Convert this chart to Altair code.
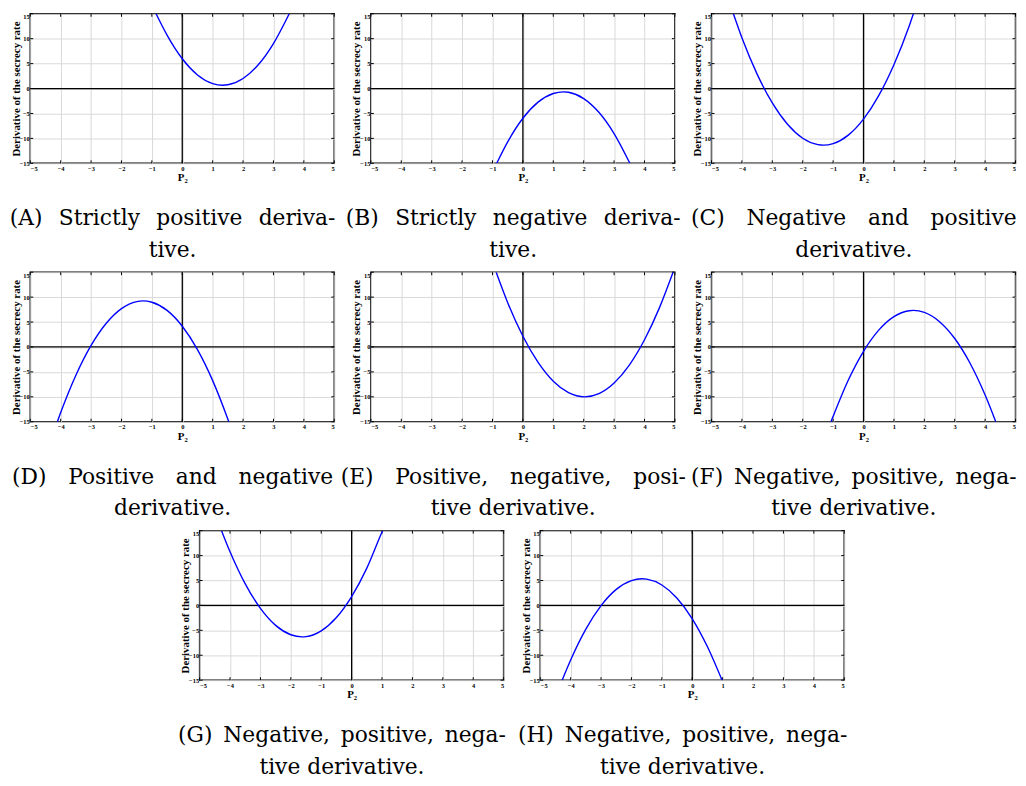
import altair as alt
import pandas as pd

# ---- data (P2 vs derivative of the secrecy rate) ----
A_x = [-0.86, -0.5, 0.0, 0.5, 1.0, 1.33, 1.5, 2.0, 2.5, 3.0, 3.52]
A_y = [15.0, 10.71, 5.97, 2.73, 0.99, 0.66, 0.75, 2.01, 4.77, 9.03, 15.0]

B_x = [-0.86, -0.5, 0.0, 0.5, 1.0, 1.33, 1.5, 2.0, 2.5, 3.0, 3.52]
B_y = [-15.0, -10.71, -5.97, -2.73, -0.99, -0.66, -0.75, -2.01, -4.77, -9.03, -15.0]

C_x = [-4.28, -4.0, -3.5, -3.0, -2.5, -2.0, -1.5, -1.32, -1.0, -0.5, 0.0, 0.5, 1.0, 1.5, 1.64]
C_y = [15.0, 10.19, 2.90, -2.89, -7.18, -9.97, -11.26, -11.36, -11.05, -9.34, -6.13, -1.42, 4.79, 12.50, 15.0]

D_x = [-4.11, -4.0, -3.5, -3.0, -2.5, -2.0, -1.5, -1.29, -1.0, -0.5, 0.0, 0.5, 1.0, 1.5, 1.53]
D_y = [-15.0, -13.16, -5.66, 0.32, 4.77, 7.70, 9.11, 9.24, 8.98, 7.34, 4.16, -0.53, -6.75, -14.50, -15.0]

E_x = [-0.88, -0.5, 0.0, 0.5, 1.0, 1.5, 2.03, 2.5, 3.0, 3.5, 4.0, 4.5, 4.94]
E_y = [15.0, 8.88, 2.16, -3.09, -6.87, -9.17, -10.0, -9.35, -7.22, -3.63, 1.45, 8.00, 15.0]

F_x = [-1.07, -1.0, -0.5, 0.0, 0.5, 1.0, 1.5, 1.64, 2.0, 2.5, 3.0, 3.5, 4.0, 4.35]
F_y = [-15.0, -13.92, -6.63, -0.86, 3.38, 6.09, 7.28, 7.34, 6.94, 5.08, 1.70, -3.21, -9.65, -15.0]

G_x = [-4.28, -4.0, -3.5, -3.0, -2.5, -2.0, -1.63, -1.5, -1.0, -0.5, 0.0, 0.5, 1.0, 1.02]
G_y = [15.0, 10.77, 4.33, -0.59, -4.00, -5.88, -6.30, -6.25, -5.09, -2.42, 1.78, 7.49, 14.73, 15.0]

H_x = [-4.28, -4.0, -3.5, -3.0, -2.5, -2.0, -1.65, -1.5, -1.0, -0.5, 0.0, 0.5, 0.98]
H_y = [-15.0, -10.94, -4.75, -0.03, 3.22, 4.99, 5.35, 5.28, 4.10, 1.45, -2.68, -8.29, -15.0]

# caption lines (wide unicode spaces mimic the justified LaTeX lines)
EM = "\u2003"          # wide gap
MID = "\u2002\u2005"   # medium gap
EN = "\u2002"          # small gap
captions = {
    "A": [f"(A){MID}Strictly{MID}positive{MID}deriva-", "tive."],
    "B": [f"(B){MID}Strictly{MID}negative{MID}deriva-", "tive."],
    "C": [f"(C){EM}Negative{EM}and{EM}positive", "derivative."],
    "D": [f"(D){EM}Positive{EM}and{EM}negative", "derivative."],
    "E": [f"(E){EM}Positive,{EM}negative,{EM}posi-", "tive derivative."],
    "F": [f"(F){EN}Negative,{EN}positive,{EN}nega-", "tive derivative."],
    "G": [f"(G){EN}Negative,{EN}positive,{EN}nega-", "tive derivative."],
    "H": [f"(H){EN}Negative,{EN}positive,{EN}nega-", "tive derivative."],
}

x_ticks = [-5, -4, -3, -2, -1, 0, 1, 2, 3, 4, 5]
y_ticks = [-15, -10, -5, 0, 5, 10, 15]

x_title = "P₂"
y_title = "Derivative of the secrecy rate"

W, H = 307, 151
AXFONT = "Liberation Serif"
CAPFONT = "DejaVu Serif"

x_axis = alt.Axis(values=x_ticks, title=x_title, labelFont=AXFONT, labelFontSize=6.5,
                  labelFontWeight="bold", titleFont=AXFONT, titleFontSize=11,
                  titleFontWeight="bold", labelPadding=2, titlePadding=0,
                  grid=True, gridColor="#d9d9d9", domain=False, ticks=False,
                  labelColor="black", titleColor="black")
y_axis = alt.Axis(values=y_ticks, title=y_title, labelFont=AXFONT, labelFontSize=6.5,
                  labelFontWeight="bold", titleFont=AXFONT, titleFontSize=11,
                  titleFontWeight="bold", labelPadding=1, titlePadding=-2,
                  labelBaseline={"condition": {"test": "datum.value == 15", "value": "top"},
                                 "value": "middle"},
                  grid=True, gridColor="#d9d9d9", domain=False, ticks=False,
                  labelColor="black", titleColor="black")
xs = alt.Scale(domain=[-5, 5], nice=False, zero=False)
ys = alt.Scale(domain=[-15, 15], nice=False, zero=False)


def panel(px, py, cap):
    df = pd.DataFrame({"x": px, "y": py})
    X = alt.X("x:Q", scale=xs, axis=x_axis)
    Y = alt.Y("y:Q", scale=ys, axis=y_axis)
    vzero = alt.Chart(pd.DataFrame({"x": [0]})).mark_rule(color="black", strokeWidth=1.3).encode(x=X)
    hzero = alt.Chart(pd.DataFrame({"y": [0]})).mark_rule(color="black", strokeWidth=1.3).encode(y=Y)
    tdx = pd.DataFrame({"x": x_ticks})
    tdy = pd.DataFrame({"y": y_ticks})
    tb = alt.Chart(tdx).mark_rule(color="black", strokeWidth=1).encode(x=X, y=alt.value(H), y2=alt.value(H - 3))
    tt = alt.Chart(tdx).mark_rule(color="black", strokeWidth=1).encode(x=X, y=alt.value(0), y2=alt.value(3))
    tl = alt.Chart(tdy).mark_rule(color="black", strokeWidth=1).encode(y=Y, x=alt.value(0), x2=alt.value(3))
    tr = alt.Chart(tdy).mark_rule(color="black", strokeWidth=1).encode(y=Y, x=alt.value(W), x2=alt.value(W - 3))
    curve = alt.Chart(df).mark_line(color="#0000ff", strokeWidth=1.4,
                                    interpolate="monotone", clip=True).encode(x=X, y=Y)
    return alt.layer(vzero, hzero, tb, tt, tl, tr, curve).properties(
        width=W, height=H,
        title=alt.TitleParams(text=cap, orient="bottom", anchor="middle", frame="bounds",
                              font=CAPFONT, fontSize=22, fontWeight="normal",
                              lineHeight=32, offset=26, color="black"),
    )


row1 = alt.hconcat(panel(A_x, A_y, captions["A"]), panel(B_x, B_y, captions["B"]),
                   panel(C_x, C_y, captions["C"]), spacing=37, bounds="flush")
row2 = alt.hconcat(panel(D_x, D_y, captions["D"]), panel(E_x, E_y, captions["E"]),
                   panel(F_x, F_y, captions["F"]), spacing=37, bounds="flush")
row3 = alt.hconcat(panel(G_x, G_y, captions["G"]), panel(H_x, H_y, captions["H"]),
                   spacing=37, bounds="flush")

chart = alt.vconcat(row1, row2, row3, spacing=8, center=True).properties(
    padding={"left": 0, "top": 0, "right": 0, "bottom": 0},
    background="white",
).configure_view(stroke="black", strokeWidth=1.5)

chart.save("out.html", embed_options={"renderer": "svg", "actions": False})
